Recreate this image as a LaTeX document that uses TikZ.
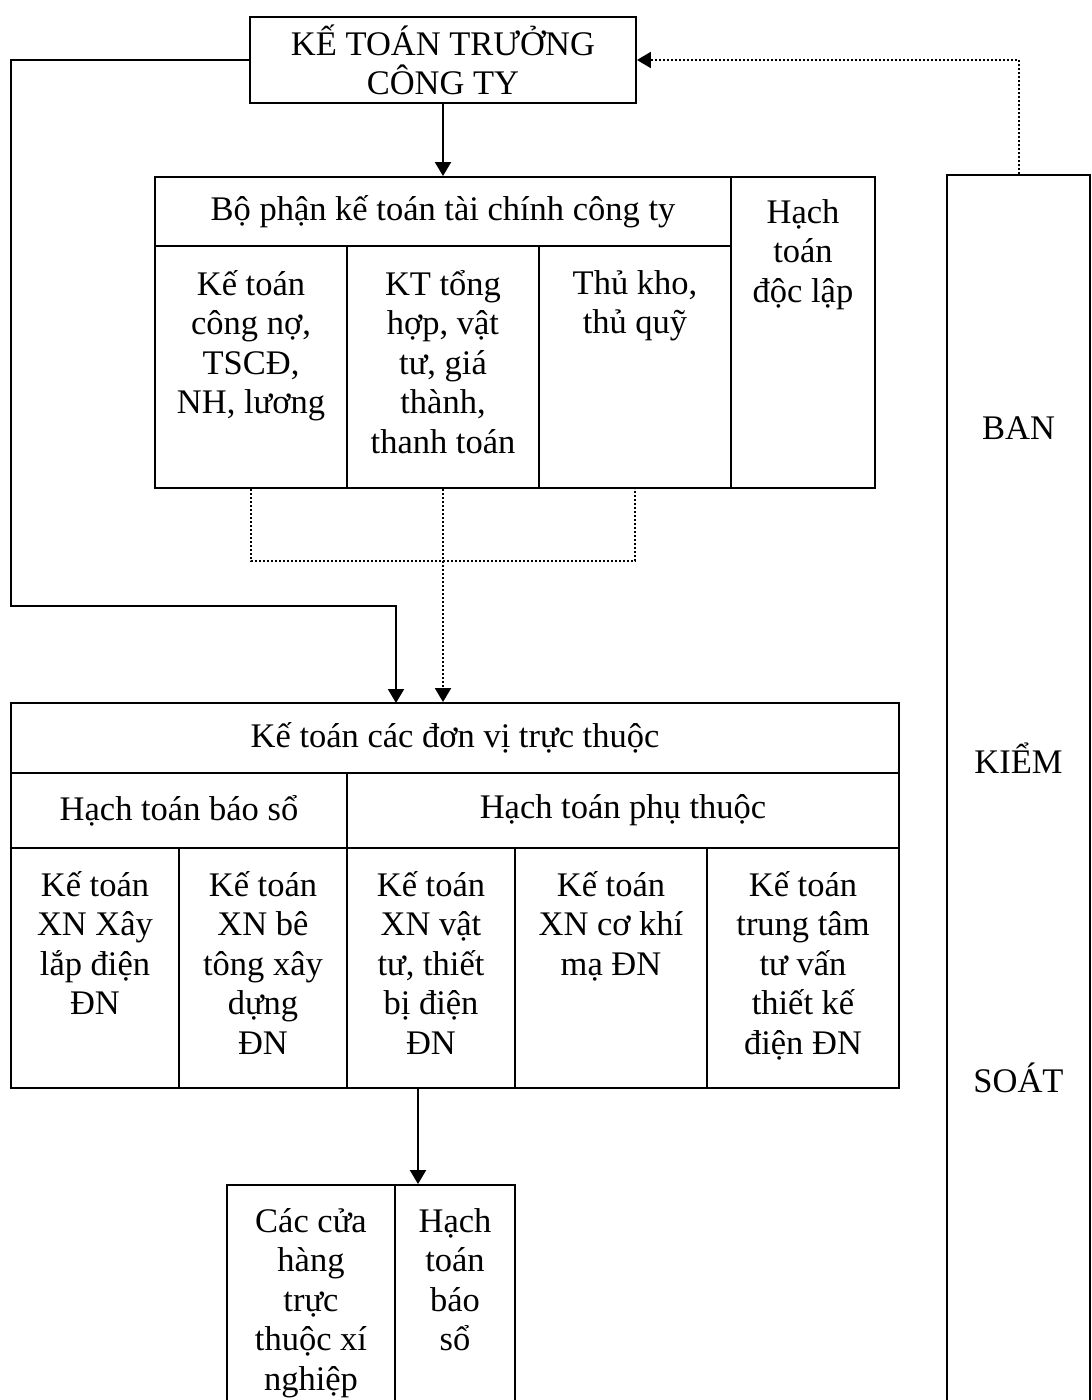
\documentclass[tikz,border=0pt]{standalone}
\usepackage{fontspec}
\setmainfont{Liberation Serif}
\usetikzlibrary{arrows.meta,calc}
\newcommand{\tstrut}{\rule{0pt}{32pt}}
\begin{document}
\begin{tikzpicture}[x=1pt,y=-1pt,
  every node/.style={font=\fontsize{34.5}{39.5}\selectfont},
  cell/.style={draw,line width=1.9pt,inner sep=0pt,align=center},
  lbl/.style={inner sep=0pt,align=center,anchor=north,execute at begin node=\tstrut},
  arr/.style={line width=2pt,-{Triangle[length=14pt,width=16pt]}},
  dotl/.style={line width=2pt,dash pattern=on 2pt off 2pt},
  darr/.style={dotl,-{Triangle[length=14pt,width=16pt]}}]
\useasboundingbox (0,0) rectangle (1092,1400);
\clip (0,0) rectangle (1092,1400);

% chief accountant
\node[cell,minimum width=386pt,minimum height=86pt] (ktt) at (443,60)
  {KẾ TOÁN TRƯỞNG\\CÔNG TY};

% company finance department
\node[cell,minimum width=576pt,minimum height=69pt] (bpHead) at (443,211.5)
  {Bộ phận kế toán tài chính công ty};
\node[cell,minimum width=192pt,minimum height=242pt] (bpC1) at (251,367) {};
\node[cell,minimum width=192pt,minimum height=242pt] (bpC2) at (443,367) {};
\node[cell,minimum width=192pt,minimum height=242pt] (bpC3) at (635,367) {};
\node[cell,minimum width=144pt,minimum height=311pt] (bpInd) at (803,332.5) {};
\node[lbl] (tC1) at (251,270) {Kế toán\\công nợ,\\TSCĐ,\\NH, lương};
\node[lbl] (tC2) at (443,270) {KT tổng\\hợp, vật\\tư, giá\\thành,\\thanh toán};
\node[lbl] (tC3) at (635,270) {Thủ kho,\\thủ quỹ};
\node[lbl] (tInd) at (803,199) {Hạch\\toán\\độc lập};

% supervisory board
\node[cell,minimum width=143pt,minimum height=1245pt] (ks) at (1018.5,797.5) {};
\node (tBan) at (1018.5,428) {BAN};
\node (tKiem) at (1018.5,758) {KIỂM};
\node (tSoat) at (1018.5,1078) {SOÁT};

% accounting of subsidiary units
\node[cell,minimum width=888pt,minimum height=70pt] (dvHead) at (455,738)
  {Kế toán các đơn vị trực thuộc};
\node[cell,minimum width=336pt,minimum height=75pt] (dvBS) at (179,810.5)
  {Hạch toán báo sổ};
\node[cell,minimum width=552pt,minimum height=75pt] (dvPT) at (623,810.5)
  {Hạch toán phụ thuộc};
\node[cell,minimum width=168pt,minimum height=240pt] (u1) at (95,968) {};
\node[cell,minimum width=168pt,minimum height=240pt] (u2) at (263,968) {};
\node[cell,minimum width=168pt,minimum height=240pt] (u3) at (431,968) {};
\node[cell,minimum width=192pt,minimum height=240pt] (u4) at (611,968) {};
\node[cell,minimum width=192pt,minimum height=240pt] (u5) at (803,968) {};
\node[lbl] (tu1) at (95,871) {Kế toán\\XN Xây\\lắp điện\\ĐN};
\node[lbl] (tu2) at (263,871) {Kế toán\\XN bê\\tông xây\\dựng\\ĐN};
\node[lbl] (tu3) at (431,871) {Kế toán\\XN vật\\tư, thiết\\bị điện\\ĐN};
\node[lbl] (tu4) at (611,871) {Kế toán\\XN cơ khí\\mạ ĐN};
\node[lbl] (tu5) at (803,871) {Kế toán\\trung tâm\\tư vấn\\thiết kế\\điện ĐN};

% shops under the enterprises
\node[cell,minimum width=168pt,minimum height=235pt] (shop) at (311,1302.5) {};
\node[cell,minimum width=120pt,minimum height=235pt] (shopHT) at (455,1302.5) {};
\node[lbl] (tShop) at (311,1208) {Các cửa\\hàng\\trực\\thuộc xí\\nghiệp};
\node[lbl] (tShopHT) at (455,1208) {Hạch\\toán\\báo\\sổ};

% connectors
\coordinate (bendL) at (11,606);
\coordinate (inA) at (396,703);
\coordinate (outB) at (418,1088);
\draw[arr] (ktt) -- (bpHead);
\draw[arr] (ktt.west) -| (bendL) -| (inA);
\draw[darr] (ks.north) |- (ktt.east);
\draw[dotl] (bpC1.south) -- ++(0,72) -| (bpC3.south);
\draw[darr] (bpC2.south) -- (bpC2.south |- dvHead.north);
\draw[arr] (outB) -- (outB |- shop.north);
\end{tikzpicture}
\end{document}
